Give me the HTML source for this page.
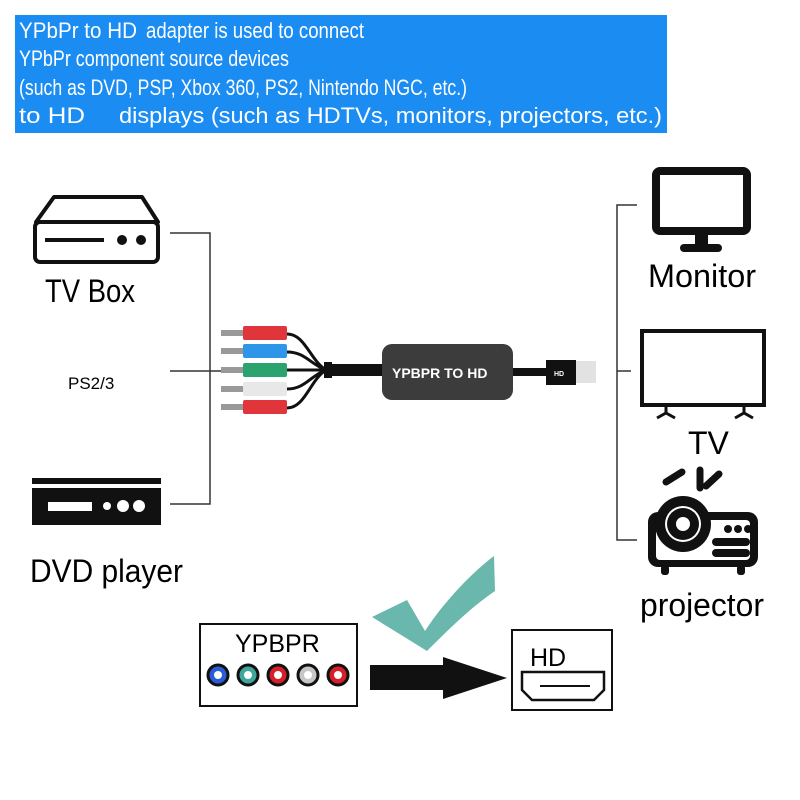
<!DOCTYPE html>
<html><head><meta charset="utf-8"><style>
html,body{margin:0;padding:0;background:#fff;width:800px;height:800px;overflow:hidden}
svg{display:block}
text{font-family:"Liberation Sans",sans-serif}
</style></head><body>
<svg width="800" height="800" viewBox="0 0 800 800" xmlns="http://www.w3.org/2000/svg">
<rect x="15" y="15" width="652" height="118" fill="#1a8cf2"/>
<g fill="#fff" font-size="22">
<text x="19" y="38" textLength="118" lengthAdjust="spacingAndGlyphs">YPbPr to HD</text>
<text x="146" y="38" textLength="218" lengthAdjust="spacingAndGlyphs">adapter is used to connect</text>
<text x="19" y="66" textLength="270" lengthAdjust="spacingAndGlyphs">YPbPr component source devices</text>
<text x="19" y="95" textLength="448" lengthAdjust="spacingAndGlyphs">(such as DVD, PSP, Xbox 360, PS2, Nintendo NGC, etc.)</text>
<text x="19" y="123" textLength="66" lengthAdjust="spacingAndGlyphs">to HD</text>
<text x="119" y="123" textLength="543" lengthAdjust="spacingAndGlyphs">displays (such as HDTVs, monitors, projectors, etc.)</text>
</g>
<g stroke="#333" stroke-width="1.5" fill="none">
<path d="M170 233H210V504H170M170 371H230"/>
<path d="M637 205H617V540H637M617 371H631"/>
</g>
<g stroke="#111" stroke-width="4" fill="none" stroke-linejoin="round">
<path d="M36 222L54 197H142L158 222Z"/>
<rect x="35" y="222" width="123" height="40" rx="5"/>
</g>
<path d="M45 240H104" stroke="#111" stroke-width="4"/>
<circle cx="122" cy="240" r="5" fill="#111"/><circle cx="141" cy="240" r="5" fill="#111"/>
<text x="45" y="302" font-size="32" textLength="90" lengthAdjust="spacingAndGlyphs">TV Box</text>
<text x="68" y="389" font-size="17">PS2/3</text>
<rect x="32" y="478" width="129" height="6" fill="#111"/>
<rect x="32" y="488" width="129" height="37" fill="#111"/>
<rect x="48" y="502" width="44" height="9" fill="#fff"/>
<circle cx="107" cy="506" r="4" fill="#fff"/><circle cx="123" cy="506" r="6" fill="#fff"/><circle cx="139" cy="506" r="6" fill="#fff"/>
<text x="30" y="582" font-size="32" textLength="153" lengthAdjust="spacingAndGlyphs">DVD player</text>
<rect x="656" y="171" width="91" height="60" rx="4" fill="none" stroke="#111" stroke-width="8"/>
<rect x="695" y="234" width="13" height="12" fill="#111"/>
<rect x="680" y="244" width="42" height="8" rx="4" fill="#111"/>
<text x="648" y="287" font-size="32" textLength="108" lengthAdjust="spacingAndGlyphs">Monitor</text>
<rect x="642" y="331" width="122" height="74" fill="none" stroke="#111" stroke-width="4"/>
<path d="M666 406L666 413M657 418L666 413L675 418M744 406L744 413M735 418L744 413L753 418" stroke="#111" stroke-width="3" fill="none"/>
<text x="688" y="454" font-size="32">TV</text>
<path d="M682 472L666 482M700 470V488M719 474L706 486" stroke="#111" stroke-width="7" stroke-linecap="round"/>
<rect x="648" y="512" width="110" height="55" rx="10" fill="#111"/>
<rect x="656" y="520" width="94" height="40" rx="4" fill="#fff"/>
<circle cx="683" cy="524" r="28" fill="#111"/>
<circle cx="683" cy="524" r="18" fill="#fff"/><circle cx="683" cy="524" r="16" fill="#111"/><circle cx="683" cy="524" r="7" fill="#fff"/>
<circle cx="728" cy="529" r="4" fill="#111"/><circle cx="738" cy="529" r="4" fill="#111"/><circle cx="748" cy="529" r="4" fill="#111"/>
<rect x="712" y="538" width="38" height="8" rx="4" fill="#111"/><rect x="712" y="549" width="38" height="8" rx="4" fill="#111"/>
<rect x="661" y="565" width="8" height="10" rx="3" fill="#111"/><rect x="737" y="565" width="8" height="10" rx="3" fill="#111"/>
<text x="640" y="616" font-size="32" textLength="124" lengthAdjust="spacingAndGlyphs">projector</text>
<g stroke="#111" stroke-width="3" fill="none">
<path d="M287 334C305 334 310 360 326 370M287 352C305 352 310 364 326 370M287 370H326M287 389C305 389 310 376 326 370M287 408C305 408 310 380 326 370"/>
</g>
<rect x="324" y="362" width="8" height="16" fill="#111"/>
<rect x="330" y="364" width="52" height="12" fill="#111"/>
<g>
<rect x="221" y="330" width="22" height="6" fill="#999"/><rect x="243" y="326" width="44" height="14" rx="2" fill="#e0353b"/>
<rect x="221" y="348" width="22" height="6" fill="#999"/><rect x="243" y="344" width="44" height="14" rx="2" fill="#2e96e8"/>
<rect x="221" y="367" width="22" height="6" fill="#999"/><rect x="243" y="363" width="44" height="14" rx="2" fill="#2ba36e"/>
<rect x="221" y="386" width="22" height="6" fill="#999"/><rect x="243" y="382" width="44" height="14" rx="2" fill="#e8e8e8"/>
<rect x="221" y="404" width="22" height="6" fill="#999"/><rect x="243" y="400" width="44" height="14" rx="2" fill="#e0353b"/>
</g>
<rect x="382" y="344" width="131" height="56" rx="10" fill="#3c3c3c"/>
<text x="392" y="378" font-size="14" font-weight="bold" fill="#fff">YPBPR TO HD</text>
<rect x="513" y="368" width="36" height="8" fill="#111"/>
<rect x="546" y="360" width="30" height="25" fill="#111"/>
<text x="554" y="376" font-size="7" fill="#fff" font-weight="bold">HD</text>
<rect x="576" y="361" width="20" height="22" fill="#e2e2e2"/>
<path d="M372 617L407 600L425 631C445 600 475 570 494 556L495 591C470 608 448 630 427 651Z" fill="#6ab7ad"/>
<rect x="200" y="624" width="157" height="82" fill="none" stroke="#111" stroke-width="2"/>
<text x="235" y="652" font-size="25">YPBPR</text>
<g stroke-width="3">
<circle cx="218" cy="675" r="10" fill="#2b5bd8" stroke="#111"/><circle cx="218" cy="675" r="4" fill="#fff"/>
<circle cx="248" cy="675" r="10" fill="#3ea69a" stroke="#111"/><circle cx="248" cy="675" r="4" fill="#fff"/>
<circle cx="278" cy="675" r="10" fill="#d8202a" stroke="#111"/><circle cx="278" cy="675" r="4" fill="#fff"/>
<circle cx="308" cy="675" r="10" fill="#c6c6c6" stroke="#111"/><circle cx="308" cy="675" r="4" fill="#fff"/>
<circle cx="338" cy="675" r="10" fill="#d8202a" stroke="#111"/><circle cx="338" cy="675" r="4" fill="#fff"/>
</g>
<path d="M370 665H443V657L507 678L443 699V690H370Z" fill="#111"/>
<rect x="512" y="630" width="100" height="80" fill="none" stroke="#111" stroke-width="2"/>
<text x="530" y="666" font-size="25">HD</text>
<path d="M522 672H604V690L594 700H532L522 690Z" fill="none" stroke="#111" stroke-width="2.5"/>
<path d="M540 686H590" stroke="#111" stroke-width="2"/>
</svg>
</body></html>
